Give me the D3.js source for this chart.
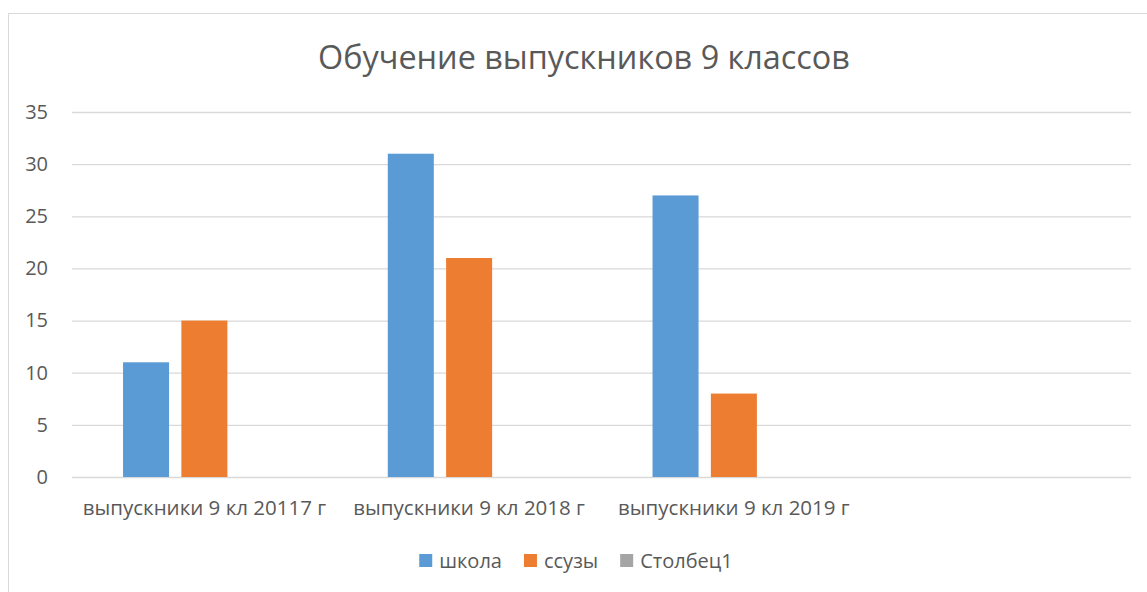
<!DOCTYPE html>
<html>
<head>
<meta charset="utf-8">
<script src="https://cdn.jsdelivr.net/npm/d3@7"></script>
<style>
  body { margin: 0; background: #fff; }
  svg text { font-family: "Open Sans", sans-serif; fill: #595959; }
</style>
</head>
<body>
<svg id="drawing_region"></svg>
<script>
// data
const categories = ["выпускники 9 кл 20117 г", "выпускники 9 кл 2018 г", "выпускники 9 кл 2019 г", ""];
const seriesNames = ["школа", "ссузы", "Столбец1"];
const shkola = [11, 31, 27, null];
const ssuzy = [15, 21, 8, null];
const stolbec1 = [null, null, null, null];
const yTicks = [0, 5, 10, 15, 20, 25, 30, 35];
const title = "Обучение выпускников 9 классов";

const colors = ["#5B9BD5", "#ED7D31", "#A5A5A5"];
const seriesValues = [shkola, ssuzy, stolbec1];

const width = 1147, height = 592;
const plot = {left: 72, right: 1131, top: 112, bottom: 477};

const svg = d3.select('#drawing_region')
    .attr('width', width)
    .attr('height', height);

// chart border
svg.append('rect')
    .attr('x', 8.5).attr('y', 13.5)
    .attr('width', 1160).attr('height', 600)
    .attr('fill', '#fff')
    .attr('stroke', '#D9D9D9');

const x0 = d3.scaleBand()
    .domain(categories)
    .range([plot.left, plot.right])
    .padding(0);

const x1 = d3.scaleBand()
    .domain(seriesNames)
    .range([0, x0.bandwidth()])
    .paddingInner(0.211)
    .paddingOuter(0.875);

const y = d3.scaleLinear()
    .domain([0, 35])
    .range([plot.bottom, plot.top]);

// y axis + gridlines
const yAxis = svg.append('g')
    .attr('transform', `translate(${plot.left},0)`)
    .call(d3.axisLeft(y).tickValues(yTicks).tickSize(-(plot.right - plot.left)).tickPadding(24));
yAxis.select('.domain').remove();
yAxis.selectAll('line').attr('stroke', '#D9D9D9').attr('stroke-width', 1.3);
yAxis.selectAll('text').attr('font-size', 20);

// bars
const rows = categories.map((c, i) => ({cat: c, vals: seriesNames.map((s, j) => ({name: s, value: seriesValues[j][i], color: colors[j]}))}));

const groups = svg.selectAll('.grp')
    .data(rows)
    .enter()
    .append('g')
    .attr('class', 'grp')
    .attr('transform', d => `translate(${x0(d.cat)},0)`);

groups.selectAll('rect')
    .data(d => d.vals.filter(v => v.value != null))
    .enter()
    .append('rect')
    .attr('x', d => x1(d.name))
    .attr('width', x1.bandwidth())
    .attr('y', d => y(d.value))
    .attr('height', d => y(0) - y(d.value))
    .attr('fill', d => d.color);

// x axis
const xAxis = svg.append('g')
    .attr('transform', `translate(0,${plot.bottom})`)
    .call(d3.axisBottom(x0).tickSize(0).tickPadding(23));
xAxis.select('.domain').remove();
xAxis.selectAll('text').attr('font-size', 20.5);

// title
svg.append('text')
    .attr('x', 584)
    .attr('y', 69)
    .attr('text-anchor', 'middle')
    .attr('font-size', 32.4)
    .text(title);

// legend
const legend = svg.append('g');
let lx = 0;
seriesNames.forEach((s, i) => {
    const item = legend.append('g').attr('transform', `translate(${lx},0)`);
    item.append('rect')
        .attr('x', 0).attr('y', -7)
        .attr('width', 13).attr('height', 13)
        .attr('fill', colors[i]);
    const t = item.append('text')
        .attr('x', 20).attr('y', 0)
        .attr('dy', '0.35em')
        .attr('font-size', 20)
        .text(s);
    lx += 20 + t.node().getComputedTextLength() + 22;
});
const legendWidth = lx - 22;
legend.attr('transform', `translate(${576 - legendWidth / 2},561)`);
</script>
</body>
</html>
